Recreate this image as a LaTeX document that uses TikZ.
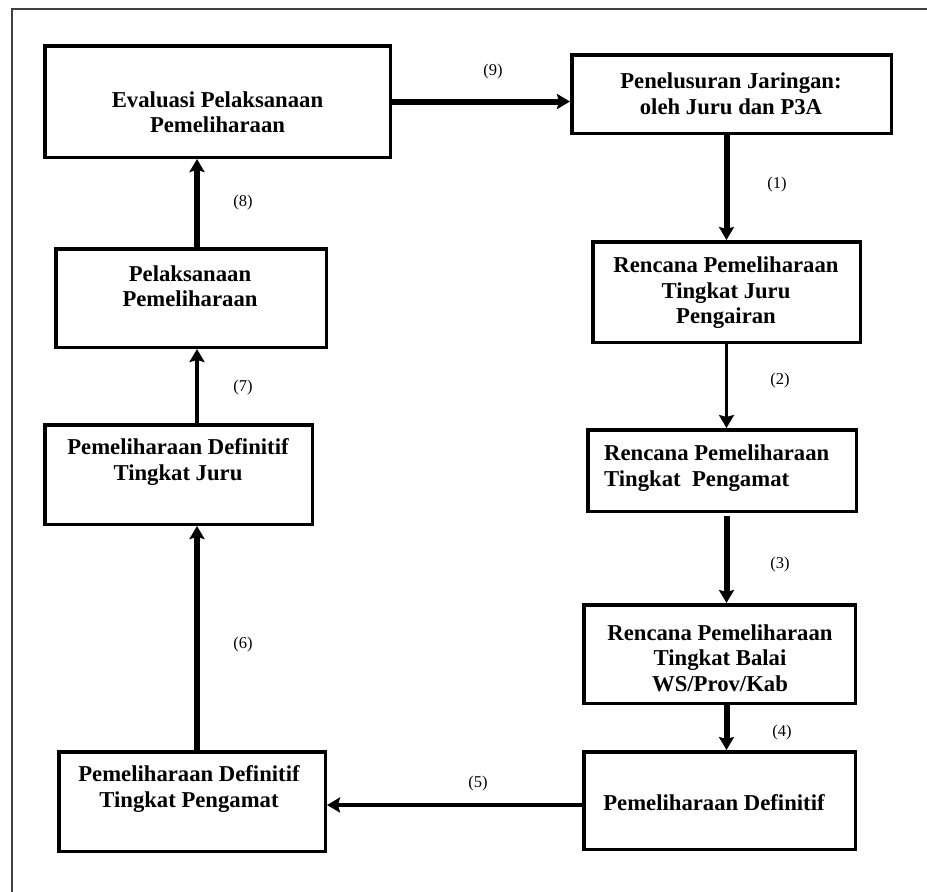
\documentclass[tikz,border=0pt]{standalone}
\usepackage{fontspec}
\setmainfont{Liberation Serif}
\usetikzlibrary{arrows.meta}

\tikzset{
  box/.style={draw=black, line width=3.5pt, rectangle, inner sep=0pt, fill=white},
  boxtext/.style={align=center, inner sep=0pt, font=\fontsize{22.7}{25.5}\selectfont\bfseries},
  steplabel/.style={inner sep=0pt, font=\fontsize{16.5}{18}\selectfont},
  flowthick/.style={line width=6pt, -{Stealth[length=13pt,width=15pt,inset=2pt]}},
  flowthin/.style={line width=3.8pt, -{Stealth[length=13pt,width=15pt,inset=2pt]}},
  frameline/.style={draw=black!75, line width=1.5pt}
}

\begin{document}
\begin{tikzpicture}[x=1pt, y=-1pt]
  \useasboundingbox (0,0) rectangle (927,892);

  % outer frame (open to the right and bottom)
  \draw[frameline] (927,9) -- (12,9) -- (12,892);

  % process boxes
  \node[box, minimum width=345.5pt, minimum height=111.5pt] (eval)   at (217.5,101.5) {};
  \node[box, minimum width=319.5pt, minimum height=78.5pt]  (pen)    at (731.5,94)    {};
  \node[box, minimum width=267.5pt, minimum height=100.5pt] (rjuru)  at (726.5,292)   {};
  \node[box, minimum width=268.5pt, minimum height=81.5pt]  (rpeng)  at (722,470.5)   {};
  \node[box, minimum width=271.5pt, minimum height=98.5pt]  (rbalai) at (719.5,654)   {};
  \node[box, minimum width=271.5pt, minimum height=97.5pt]  (pdef)   at (719.5,800.5) {};
  \node[box, minimum width=266.5pt, minimum height=99.5pt]  (pdpeng) at (192,801.5)   {};
  \node[box, minimum width=267.5pt, minimum height=99.5pt]  (pdjuru) at (178.5,474.5) {};
  \node[box, minimum width=270.5pt, minimum height=98.5pt]  (pelak)  at (191,298)     {};

  % box texts
  \node[boxtext] (evalT)   at (217.5,112) {Evaluasi Pelaksanaan\\Pemeliharaan};
  \node[boxtext] (penT)    at (731,94)    {Penelusuran Jaringan:\\oleh Juru dan P3A};
  \node[boxtext] (rjuruT)  at (726,293)   {Rencana Pemeliharaan\\Tingkat Juru\\Pengairan};
  \node[boxtext, align=left, anchor=west] (rpengT) at (604,468) {Rencana Pemeliharaan\\Tingkat\ \ Pengamat};
  \node[boxtext] (rbalaiT) at (720,658)   {Rencana Pemeliharaan\\Tingkat Balai\\WS/Prov/Kab};
  \node[boxtext] (pdefT)   at (714,803)   {Pemeliharaan Definitif};
  \node[boxtext] (pdpengT) at (189,789)   {Pemeliharaan Definitif\\Tingkat Pengamat};
  \node[boxtext] (pdjuruT) at (178,462)   {Pemeliharaan Definitif\\Tingkat Juru};
  \node[boxtext] (pelakT)  at (190,286)   {Pelaksanaan\\Pemeliharaan};

  % columns and row used by the connectors
  \coordinate (colL) at (197,0);
  \coordinate (rowB) at (0,805);

  % connectors
  \draw[flowthick] (eval.east) -- (eval.east -| pen.west);
  \draw[flowthick] (rjuru.north |- pen.south) -- (rjuru.north);
  \draw[flowthin]  (rjuru.south) -- (rjuru.south |- rpeng.north);
  \draw[flowthick, shorten <=3pt] (rjuru.south |- rpeng.south) -- (rjuru.south |- rbalai.north);
  \draw[flowthick] (rjuru.south |- rbalai.south) -- (rjuru.south |- pdef.north);
  \draw[flowthin]  (pdef.west |- rowB) -- (pdpeng.east |- rowB);
  \draw[flowthick] (pdpeng.north -| colL) -- (pdjuru.south -| colL);
  \draw[flowthin]  (pdjuru.north -| colL) -- (pelak.south -| colL);
  \draw[flowthick] (pelak.north -| colL) -- (eval.south -| colL);

  % step numbers
  \node[steplabel] (s9) at (493,72)  {(9)};
  \node[steplabel] (s1) at (777,185) {(1)};
  \node[steplabel] (s2) at (780,381) {(2)};
  \node[steplabel] (s3) at (780,565) {(3)};
  \node[steplabel] (s4) at (782,733) {(4)};
  \node[steplabel] (s5) at (478,784) {(5)};
  \node[steplabel] (s6) at (243,645) {(6)};
  \node[steplabel] (s7) at (243,388) {(7)};
  \node[steplabel] (s8) at (243,203) {(8)};
\end{tikzpicture}
\end{document}
